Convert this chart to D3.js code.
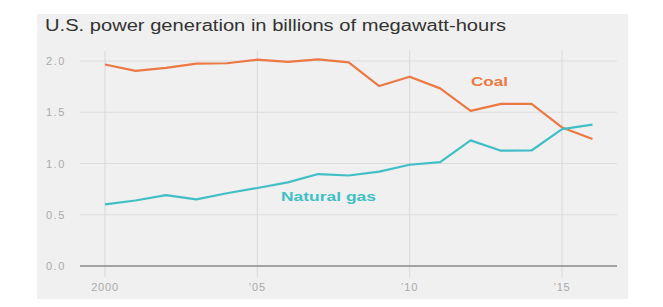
<!DOCTYPE html>
<html>
  <head>
    <meta charset="utf-8">
    <style>
        body { margin: 0; background: #fff; }
        text { font-family: "Liberation Sans", Arial, sans-serif; }
    </style>
    <script src="https://d3js.org/d3.v7.min.js"></script>
  </head>
  <body>
    <svg></svg>
    <script>
    // data, billions of MWh
    var years = [2000, 2001, 2002, 2003, 2004, 2005, 2006, 2007, 2008, 2009, 2010, 2011, 2012, 2013, 2014, 2015, 2016];
    var coal = [1.966, 1.904, 1.933, 1.974, 1.978, 2.013, 1.991, 2.016, 1.986, 1.756, 1.847, 1.733, 1.514, 1.581, 1.582, 1.352, 1.239];
    var gas = [0.601, 0.639, 0.691, 0.650, 0.710, 0.761, 0.816, 0.897, 0.883, 0.921, 0.988, 1.014, 1.226, 1.125, 1.127, 1.335, 1.379];
    var yTicks = [0, 0.5, 1.0, 1.5, 2.0];
    var xTicks = [2000, 2005, 2010, 2015];
    var xTickLabels = ["2000", "\u201905", "\u201910", "\u201915"];

    var svg = d3.select("svg")
        .attr("width", 663)
        .attr("height", 307);

    // gray panel
    svg.append("rect")
        .attr("x", 37).attr("y", 14)
        .attr("width", 591).attr("height", 285)
        .attr("fill", "#f0f0f0");

    svg.append("text")
        .attr("x", 45).attr("y", 31)
        .attr("font-size", "16px")
        .attr("fill", "#333")
        .attr("textLength", 461)
        .attr("lengthAdjust", "spacingAndGlyphs")
        .text("U.S. power generation in billions of megawatt-hours");

    var x = d3.scaleLinear()
        .domain([2000, 2015])
        .range([105, 562]);

    var y = d3.scaleLinear()
        .domain([0, 2])
        .range([266, 61]);

    // horizontal grid
    svg.append("g")
        .selectAll("line")
        .data(yTicks.filter(function(d) { return d > 0; }))
        .enter().append("line")
          .attr("x1", 80).attr("x2", 617)
          .attr("y1", function(d) { return y(d); })
          .attr("y2", function(d) { return y(d); })
          .attr("stroke", "#dcdcdc")
          .attr("stroke-width", 1);

    // vertical grid
    svg.append("g")
        .selectAll("line")
        .data(xTicks)
        .enter().append("line")
          .attr("x1", function(d) { return x(d); })
          .attr("x2", function(d) { return x(d); })
          .attr("y1", 51).attr("y2", 277)
          .attr("stroke", "#d8d8d8")
          .attr("stroke-width", 1);

    // baseline
    svg.append("line")
        .attr("x1", 80).attr("x2", 617)
        .attr("y1", y(0)).attr("y2", y(0))
        .attr("stroke", "#8a8a8a")
        .attr("stroke-width", 1.5);

    // y labels
    svg.append("g")
        .selectAll("text")
        .data(yTicks)
        .enter().append("text")
          .attr("x", 46)
          .attr("y", function(d) { return y(d) + 4; })
          .attr("font-family", "'DejaVu Sans Mono', monospace")
          .attr("font-size", "11px")
          .attr("letter-spacing", "1.5px")
          .attr("fill", "#aaa")
          .text(function(d) { return d3.format(".1f")(d); });

    // x labels
    svg.append("g")
        .selectAll("text")
        .data(xTicks)
        .enter().append("text")
          .attr("x", function(d) { return x(d); })
          .attr("y", 291)
          .attr("text-anchor", "middle")
          .attr("font-size", "11px")
          .attr("letter-spacing", "0.8px")
          .attr("fill", "#aaa")
          .text(function(d, i) { return xTickLabels[i]; });

    var line = d3.line()
        .x(function(d, i) { return x(years[i]); })
        .y(function(d) { return y(d); });

    svg.append("path")
        .datum(coal)
        .attr("fill", "none")
        .attr("stroke", "#ec7843")
        .attr("stroke-width", 2.2)
        .attr("stroke-linejoin", "round")
        .attr("d", line);

    svg.append("path")
        .datum(gas)
        .attr("fill", "none")
        .attr("stroke", "#41bfc6")
        .attr("stroke-width", 2.2)
        .attr("stroke-linejoin", "round")
        .attr("d", line);

    svg.append("text")
        .attr("x", 471).attr("y", 86)
        .attr("font-size", "13px")
        .attr("font-weight", "bold")
        .attr("fill", "#ec7843")
        .attr("textLength", 37)
        .attr("lengthAdjust", "spacingAndGlyphs")
        .text("Coal");

    svg.append("text")
        .attr("x", 281).attr("y", 201)
        .attr("font-size", "13px")
        .attr("font-weight", "bold")
        .attr("fill", "#41bfc6")
        .attr("textLength", 95)
        .attr("lengthAdjust", "spacingAndGlyphs")
        .text("Natural gas");
    </script>
  </body>
</html>
